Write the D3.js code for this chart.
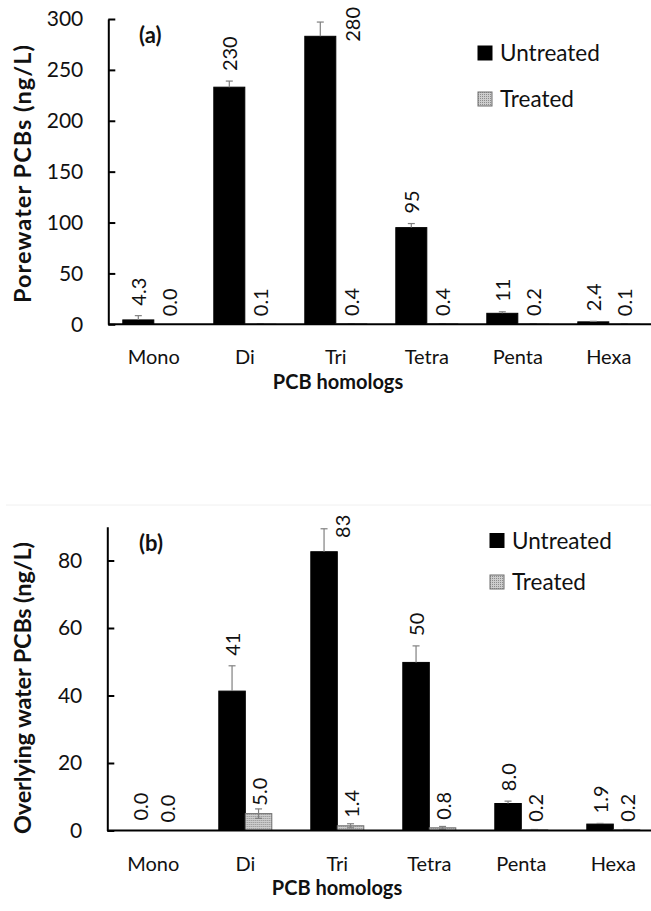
<!DOCTYPE html>
<html>
<head>
<meta charset="utf-8">
<script src="https://cdn.jsdelivr.net/npm/d3@7"></script>
<style>
  body { margin: 0; background: #fff; }
  svg { display: block; }
  text { font-family: Lato, "Open Sans", sans-serif; fill: #111; }
</style>
</head>
<body>
<svg id="chart" width="651" height="911"></svg>
<script>
// PCB homolog groups and the two sediment conditions
const homologs = ["Mono", "Di", "Tri", "Tetra", "Penta", "Hexa"];
const seriesNames = ["Untreated", "Treated"];

// Panel (a): porewater PCBs, ng/L
const poreUntreated    = [4.3, 233, 283, 95, 10.8, 2.4];
const poreUntreatedErr = [4.2, 6, 14, 4, 1.5, 0.5];
const poreTreated      = [0.0, 0.1, 0.4, 0.4, 0.2, 0.1];
const poreTreatedErr   = [0, 0.05, 0.1, 0.1, 0.05, 0.05];
const poreTicks        = [0, 50, 100, 150, 200, 250, 300];

// Panel (b): overlying water PCBs, ng/L
const overUntreated    = [0.0, 41.3, 82.6, 49.8, 8.0, 1.9];
const overUntreatedErr = [0, 7.5, 6.8, 4.9, 0.7, 0.2];
const overTreated      = [0.0, 5.0, 1.4, 0.8, 0.2, 0.2];
const overTreatedErr   = [0, 1.4, 0.6, 0.4, 0.1, 0.1];
const overTicks        = [0, 20, 40, 60, 80];

const svg = d3.select("#chart");

// stippled grey fill used for the treated bars
const defs = svg.append("defs");
const pat = defs.append("pattern")
  .attr("id", "stipple").attr("width", 2).attr("height", 2)
  .attr("patternUnits", "userSpaceOnUse");
pat.append("rect").attr("width", 2).attr("height", 2).attr("fill", "#cdcdcd");
pat.append("rect").attr("width", 1).attr("height", 1).attr("fill", "#8c8c8c");

const fmt = v => v >= 10 ? d3.format(".2r")(v) : v.toFixed(1);
const errColor = "#808080";

function drawPanel(o) {
  const g = svg.append("g");
  const x = d3.scaleBand().domain(homologs).range(o.xRange).paddingInner(0).paddingOuter(0);
  const bw = x.bandwidth();
  const barW = bw / (2 + 2 * o.groupPad);
  const xs = d3.scaleBand().domain(seriesNames)
    .range([barW * o.groupPad, barW * o.groupPad + 2 * barW]).padding(0);
  const y = d3.scaleLinear().domain(o.yDomain).range(o.yRange);
  const y0 = y(0);

  const rows = homologs.map((h, i) => ({
    h,
    vals: [
      { s: "Untreated", v: o.untreated[i], e: o.untreatedErr[i] },
      { s: "Treated",   v: o.treated[i],   e: o.treatedErr[i] }
    ]
  }));

  // bars
  const grp = g.selectAll("g.cat").data(rows).join("g")
    .attr("class", "cat")
    .attr("transform", d => `translate(${x(d.h)},0)`);

  grp.selectAll("rect").data(d => d.vals).join("rect")
    .attr("x", d => xs(d.s))
    .attr("width", xs.bandwidth())
    .attr("y", d => y(d.v))
    .attr("height", d => y0 - y(d.v))
    .attr("fill", d => d.s === "Untreated" ? "#000" : "url(#stipple)")
    .attr("stroke", d => d.s === "Untreated" ? "#000" : "#6e6e6e")
    .attr("stroke-width", d => d.v > 0 ? 1 : 0);

  // error bars: untreated show the plus side only, treated show both sides
  const eb = grp.selectAll("g.err").data(d => d.vals.filter(v => v.e > 0)).join("g")
    .attr("class", "err")
    .attr("transform", d => `translate(${xs(d.s) + xs.bandwidth() / 2},0)`);
  eb.append("line")
    .attr("y1", d => d.s === "Untreated" ? y(d.v) : y(Math.max(0, d.v - d.e)))
    .attr("y2", d => y(d.v + d.e))
    .attr("stroke", errColor).attr("stroke-width", 1.2);
  eb.append("line")
    .attr("x1", -3.5).attr("x2", 3.5)
    .attr("y1", d => y(d.v + d.e)).attr("y2", d => y(d.v + d.e))
    .attr("stroke", errColor).attr("stroke-width", 1.2);
  eb.filter(d => d.s === "Treated" && d.v - d.e > 0).append("line")
    .attr("x1", -3.5).attr("x2", 3.5)
    .attr("y1", d => y(d.v - d.e)).attr("y2", d => y(d.v - d.e))
    .attr("stroke", errColor).attr("stroke-width", 1.2);

  // rotated value labels
  const yTop = o.yRange[1];
  grp.selectAll("text.val").data(d => d.vals).join("text")
    .attr("class", "val")
    .attr("font-size", 20)
    .attr("dominant-baseline", "central")
    .each(function (d) {
      const cx = xs(d.s) + xs.bandwidth() / 2;
      let ly = d.s === "Untreated" ? y(d.v + d.e) - 10 : y(d.v) - 8;
      let anchor = "start", lx = cx;
      // labels that would run past the top of the axis sit beside the bar instead
      if (ly - 40 < yTop) { anchor = "end"; ly = yTop - 12; lx = cx + o.overflowShift; }
      d3.select(this)
        .attr("text-anchor", anchor)
        .attr("transform", `translate(${lx},${ly}) rotate(-90)`)
        .text(fmt(d.v));
    });

  // y axis with inward ticks
  const ya = g.append("g")
    .attr("transform", `translate(${o.xRange[0]},0)`)
    .call(d3.axisLeft(y).tickValues(o.ticks).tickSizeInner(-7).tickSizeOuter(0).tickPadding(25));
  ya.select(".domain").attr("stroke", "#000").attr("stroke-width", 2);
  ya.selectAll(".tick line").attr("stroke", "#000").attr("stroke-width", 2);
  ya.selectAll(".tick text").attr("font-size", 21).attr("font-family", "Lato").attr("fill", "#111");

  // x axis baseline and category labels
  g.append("line")
    .attr("x1", o.xRange[0]).attr("x2", o.xRange[1])
    .attr("y1", y0).attr("y2", y0)
    .attr("stroke", "#000").attr("stroke-width", 2);
  g.selectAll("text.cat").data(homologs).join("text")
    .attr("class", "cat")
    .attr("x", d => x(d) + bw / 2).attr("y", y0 + 32)
    .attr("text-anchor", "middle").attr("dominant-baseline", "central")
    .attr("font-size", 20)
    .text(d => d);

  // axis titles
  g.append("text")
    .attr("x", o.xTitleX).attr("y", o.xTitleY)
    .attr("text-anchor", "middle").attr("dominant-baseline", "central")
    .attr("font-size", 20).attr("font-weight", "bold")
    .text("PCB homologs");
  g.append("text")
    .attr("transform", `translate(${o.yTitleX},${o.yTitleY}) rotate(-90)`)
    .attr("text-anchor", "middle").attr("dominant-baseline", "central")
    .attr("font-size", 23.5).attr("font-weight", "bold")
    .attr("textLength", o.yTitleLen).attr("lengthAdjust", "spacing")
    .text(o.yTitle);

  // panel tag
  g.append("text")
    .attr("x", o.tagX).attr("y", o.tagY)
    .attr("font-size", 22).attr("font-weight", "bold")
    .text(o.tag);

  // legend
  const lg = g.append("g");
  seriesNames.forEach((s, i) => {
    const ly = o.legendY + i * o.legendGap;
    lg.append("rect")
      .attr("x", o.legendX).attr("y", ly - 15)
      .attr("width", 14).attr("height", 14)
      .attr("fill", s === "Untreated" ? "#000" : "url(#stipple)")
      .attr("stroke", s === "Untreated" ? "#000" : "#6e6e6e").attr("stroke-width", 1);
    lg.append("text")
      .attr("x", o.legendX + 22).attr("y", ly)
      .attr("font-size", 22.5)
      .text(s);
  });
}

drawPanel({
  untreated: poreUntreated, untreatedErr: poreUntreatedErr,
  treated: poreTreated, treatedErr: poreTreatedErr,
  ticks: poreTicks,
  xRange: [108.3, 654.3], groupPad: 0.468,
  yDomain: [0, 300], yRange: [324.3, 19],
  overflowShift: 32,
  xTitleX: 338, xTitleY: 381,
  yTitleX: 22, yTitleY: 174, yTitleLen: 258,
  yTitle: "Porewater PCBs (ng/L)",
  tag: "(a)", tagX: 139, tagY: 43,
  legendX: 478, legendY: 61, legendGap: 46
});

// faint frame line above the lower panel
svg.append("line")
  .attr("x1", 6).attr("x2", 651).attr("y1", 505).attr("y2", 505)
  .attr("stroke", "#f0f0f0").attr("stroke-width", 1);

drawPanel({
  untreated: overUntreated, untreatedErr: overUntreatedErr,
  treated: overTreated, treatedErr: overTreatedErr,
  ticks: overTicks,
  xRange: [107.3, 659.3], groupPad: 0.736,
  yDomain: [0, 90], yRange: [830.5, 526.75],
  overflowShift: 18,
  xTitleX: 337, xTitleY: 887,
  yTitleX: 22, yTitleY: 688, yTitleLen: 292,
  yTitle: "Overlying water PCBs (ng/L)",
  tag: "(b)", tagX: 139, tagY: 551,
  legendX: 490, legendY: 548.5, legendGap: 41.5
});
</script>
</body>
</html>
